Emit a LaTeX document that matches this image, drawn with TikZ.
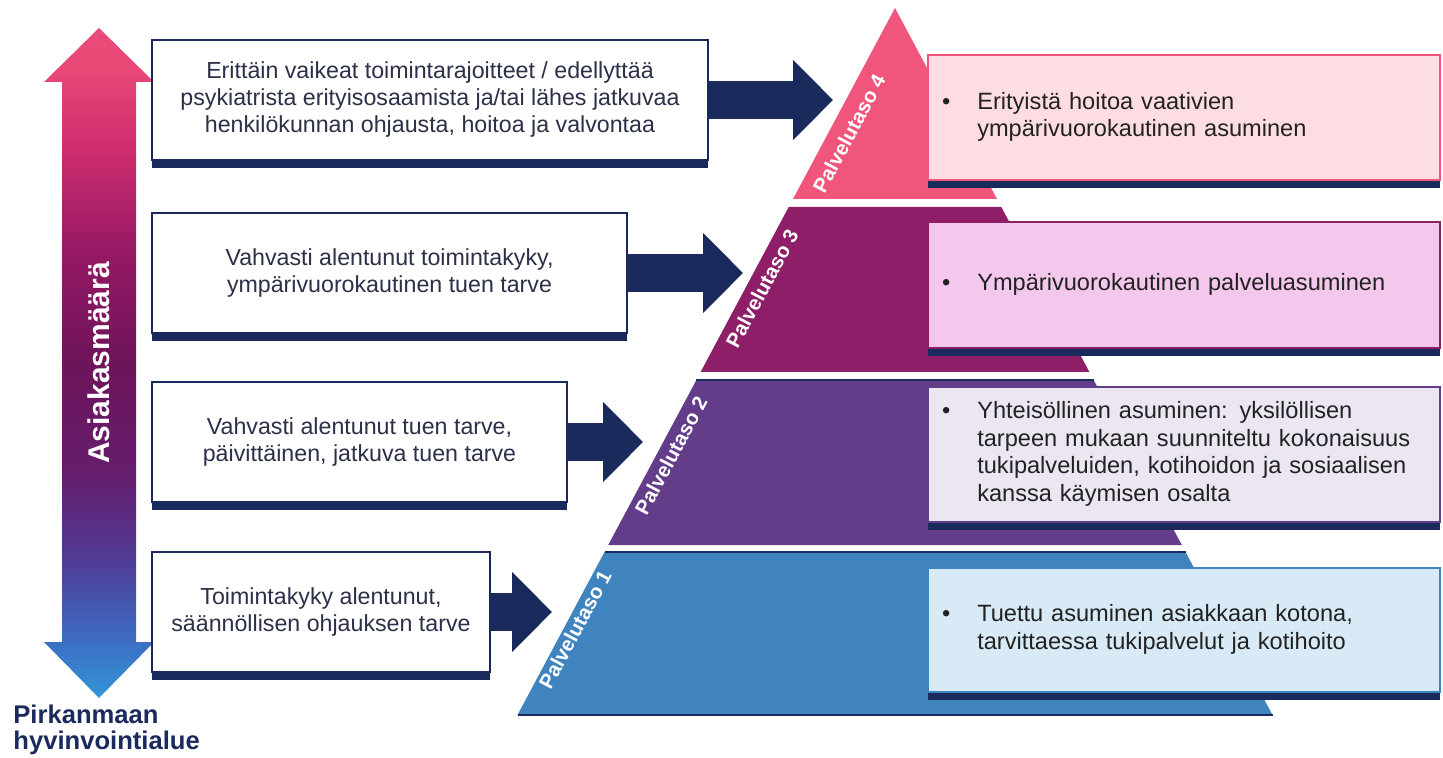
\documentclass[tikz,border=0pt]{standalone}
\usepackage{fontspec}
\setmainfont{Liberation Sans}
\usetikzlibrary{arrows.meta,shadows}

\definecolor{navyc}{HTML}{1B2A5C}
\definecolor{ltext}{HTML}{2C3048}
\definecolor{rtext}{HTML}{222222}
\definecolor{pinkc}{HTML}{F0557B}
\definecolor{plumc}{HTML}{8E1E68}
\definecolor{purplec}{HTML}{633D8A}
\definecolor{bluec}{HTML}{3F83BF}
\definecolor{fillfour}{HTML}{FDDDE2}
\definecolor{fillthree}{HTML}{F3C8EC}
\definecolor{filltwo}{HTML}{EBE6F2}
\definecolor{fillone}{HTML}{D7EAF5}

% vertical shading of the double arrow, bottom to top
\pgfdeclareverticalshading{asiakas}{100bp}{
	color(0bp)=(rgb,255:red,50;green,150;blue,215);
	color(25bp)=(rgb,255:red,50;green,150;blue,215);
	color(29.3bp)=(rgb,255:red,60;green,110;blue,195);
	color(35.3bp)=(rgb,255:red,80;green,60;blue,150);
	color(41.3bp)=(rgb,255:red,100;green,30;blue,110);
	color(50.2bp)=(rgb,255:red,110;green,20;blue,90);
	color(58.4bp)=(rgb,255:red,150;green,25;blue,100);
	color(65.9bp)=(rgb,255:red,205;green,45;blue,110);
	color(72bp)=(rgb,255:red,232;green,72;blue,118);
	color(75bp)=(rgb,255:red,235;green,75;blue,120);
	color(100bp)=(rgb,255:red,235;green,75;blue,120)}

\newcommand{\bul}[1]{\textbullet\hspace{13.5pt}\begin{tabular}[t]{@{}l@{}}#1\end{tabular}}

\begin{document}
\begin{tikzpicture}[x=0.5pt,y=-0.5pt]
	% Define styles for boxes, block arrows and level labels
	\tikzset{
		lbox/.style={draw=navyc, line width=0.9pt, fill=white, general shadow={fill=navyc, shadow yshift=-4pt}, align=center, text=ltext, inner sep=0pt, font=\fontsize{11.6}{13.5}\selectfont},
		rbox/.style={line width=0.9pt, general shadow={fill=navyc, shadow yshift=-4pt}, text width=242pt, inner xsep=7pt, align=left, text=rtext, font=\fontsize{11.8}{13.8}\selectfont},
		blockarrow/.style={draw=navyc, line width=19pt, -{Triangle[length=20pt, width=39pt]}},
		lvl/.style={rotate=61.9, text=white, font=\bfseries\fontsize{10.2}{12}\selectfont},
		edge/.style={draw=navyc, line width=0.6pt}
	}
	\useasboundingbox (0,0) rectangle (1443,758);
	
	% Draw the shaded double arrow on the left
	\shade[shading=asiakas] (99,28) -- (154,82) -- (136,82) -- (136,642) -- (154,642) -- (99,698) -- (44,642) -- (62,642) -- (62,82) -- (44,82) -- cycle;
	\node[rotate=90, text=white, font=\bfseries\fontsize{15}{18}\selectfont] (qty) at (99,363) {Asiakasmäärä};
	
	% Draw the pyramid levels
	\fill[pinkc] (895,8) -- (997,199) -- (793,199) -- cycle;
	\fill[plumc] (788.7,207) -- (1001.3,207) -- (1089.4,372) -- (700.6,372) -- cycle;
	\fill[purplec] (696.4,380) -- (1093.6,380) -- (1181.8,545) -- (608.2,545) -- cycle;
	\fill[bluec] (604.5,552) -- (1185.5,552) -- (1272.5,715) -- (517.5,715) -- cycle;
	\draw[edge] (696.4,380) -- (1093.6,380);
	\draw[edge] (604.5,552) -- (1185.5,552);
	\draw[edge] (517.5,715) -- (1272.5,715);
	
	% Level labels along the left slope
	\node[lvl] (p4) at (849,134) {Palvelutaso 4};
	\node[lvl] (p3) at (762,289) {Palvelutaso 3};
	\node[lvl] (p2) at (671,456) {Palvelutaso 2};
	\node[lvl] (p1) at (575,630) {Palvelutaso 1};
	
	% Boxes on the left
	\node[lbox, minimum width=278pt, minimum height=60pt] (b4) at (430,100) {Erittäin vaikeat toimintarajoitteet / edellyttää\\psykiatrista erityisosaamista ja/tai lähes jatkuvaa\\henkilökunnan ohjausta, hoitoa ja valvontaa};
	\node[lbox, minimum width=237.5pt, minimum height=60pt] (b3) at (389.5,273) {Vahvasti alentunut toimintakyky,\\ympärivuorokautinen tuen tarve};
	\node[lbox, minimum width=207.5pt, minimum height=60pt] (b2) at (359.5,442) {Vahvasti alentunut tuen tarve,\\päivittäinen, jatkuva tuen tarve};
	\node[lbox, minimum width=169pt, minimum height=60pt] (b1) at (321,612) {Toimintakyky alentunut,\\säännöllisen ohjauksen tarve};
	
	% Block arrows from the boxes to the pyramid
	\coordinate (t4) at (833,100);
	\coordinate (t3) at (743,273);
	\coordinate (t2) at (643,442);
	\coordinate (t1) at (552,612);
	\draw[blockarrow] (b4.east) -- (t4);
	\draw[blockarrow] (b3.east) -- (t3);
	\draw[blockarrow] (b2.east) -- (t2);
	\draw[blockarrow] (b1.east) -- (t1);
	
	% Boxes on the right
	\node[rbox, draw=pinkc, fill=fillfour, minimum height=62.5pt] (r4) at (1184,117.5) {\bul{Erityistä hoitoa vaativien\\ympärivuorokautinen asuminen}};
	\node[rbox, draw=plumc, fill=fillthree, minimum height=63pt] (r3) at (1184,285) {\bul{Ympärivuorokautinen palveluasuminen}};
	\node[rbox, draw=purplec, fill=filltwo, minimum height=67.5pt] (r2) at (1184,454.5) {\bul{Yhteisöllinen asuminen: yksilöllisen\\tarpeen mukaan suunniteltu kokonaisuus\\tukipalveluiden, kotihoidon ja sosiaalisen\\kanssa käymisen osalta}};
	\node[rbox, draw=bluec, fill=fillone, minimum height=62pt] (r1) at (1184,630) {\bul{Tuettu asuminen asiakkaan kotona,\\tarvittaessa tukipalvelut ja kotihoito}};
	
	% Organisation name
	\node[anchor=north west, align=left, inner sep=0pt, text=navyc, font=\bfseries\fontsize{12.8}{12.8}\selectfont] (org) at (13,705) {Pirkanmaan\\hyvinvointialue};
\end{tikzpicture}
\end{document}
